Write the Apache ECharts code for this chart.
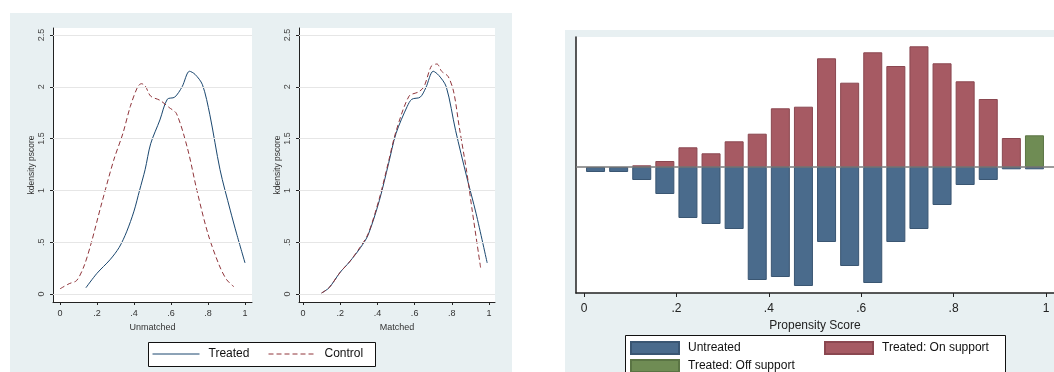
<!DOCTYPE html>
<html>
<head>
<meta charset="utf-8">
<style>
html,body{margin:0;padding:0;background:#fff;}
#chart{width:1054px;height:372px;}
</style>
<script src="https://cdn.jsdelivr.net/npm/echarts@6/dist/echarts.min.js"></script>
</head>
<body>
<div id="chart"></div>
<script>
// ---------- data ----------
const xTicks = [0, 0.2, 0.4, 0.6, 0.8, 1];
const xTickLabels = ['0', '.2', '.4', '.6', '.8', '1'];
const yTicks = [0, 0.5, 1, 1.5, 2, 2.5];
const yTickLabels = ['0', '.5', '1', '1.5', '2', '2.5'];

const treatedUnmatched = [[0.14,0.06],[0.2,0.2],[0.27,0.33],[0.32,0.45],[0.36,0.6],[0.40,0.8],[0.43,1.0],[0.46,1.2],[0.49,1.45],[0.54,1.68],[0.58,1.88],[0.62,1.9],[0.66,2.0],[0.70,2.15],[0.73,2.12],[0.77,2.02],[0.81,1.73],[0.865,1.2],[0.92,0.81],[0.955,0.58],[1.0,0.3]];
const controlUnmatched = [[0,0.05],[0.05,0.1],[0.09,0.13],[0.13,0.27],[0.17,0.5],[0.22,0.84],[0.29,1.29],[0.34,1.55],[0.38,1.81],[0.42,2.0],[0.44,2.03],[0.46,2.01],[0.49,1.91],[0.54,1.87],[0.59,1.8],[0.63,1.74],[0.69,1.4],[0.74,1.0],[0.80,0.58],[0.86,0.28],[0.9,0.14],[0.94,0.07]];
const treatedMatched = [[0.1,0.01],[0.14,0.06],[0.2,0.21],[0.25,0.31],[0.31,0.45],[0.35,0.57],[0.41,0.9],[0.46,1.26],[0.5,1.55],[0.56,1.81],[0.585,1.88],[0.63,1.9],[0.66,1.99],[0.7,2.15],[0.73,2.11],[0.77,2.0],[0.82,1.58],[0.88,1.13],[0.93,0.78],[0.99,0.3]];
const controlMatched = [[0.1,0.01],[0.14,0.06],[0.2,0.21],[0.25,0.31],[0.31,0.46],[0.35,0.58],[0.41,0.92],[0.46,1.28],[0.5,1.57],[0.57,1.91],[0.62,1.95],[0.65,2.0],[0.69,2.2],[0.72,2.22],[0.745,2.15],[0.78,2.1],[0.81,1.95],[0.84,1.61],[0.88,1.18],[0.91,0.8],[0.955,0.25]];

const binCenters = [0.025,0.075,0.125,0.175,0.225,0.275,0.325,0.375,0.425,0.475,0.525,0.575,0.625,0.675,0.725,0.775,0.825,0.875,0.925,0.975];
const untreated = [-5,-5,-13,-27,-51,-57,-62,-113,-110,-119,-75,-99,-116,-75,-62,-38,-18,-13,-2.3,-2.3];
const treatedOn = [null,null,1.7,6,19.7,13.7,25.7,33.3,58.7,60.3,108.7,84.3,114.7,101,120.7,103.7,85.7,68,29,null];
const treatedOff = [null,null,null,null,null,null,null,null,null,null,null,null,null,null,null,null,null,null,null,31.7];

// ---------- helpers ----------
const FONT = 'Liberation Sans, Arial, sans-serif';
const NAVY = '#1a476f';
const MAROON = '#90353b';
const pair = (xs, ys) => xs.map((x, i) => [x, ys[i]]);
const fmt = (ticks, labels) => v => { const i = ticks.findIndex(t => Math.abs(t - v) < 1e-9); return i >= 0 ? labels[i] : ''; };

function kdXAxis(gridIndex, min, max, name) {
  return {
    type: 'value', gridIndex, min, max, name, nameLocation: 'middle', nameGap: 13,
    nameTextStyle: { fontFamily: FONT, fontSize: 9, color: '#333' },
    axisLine: { show: true, onZero: false, lineStyle: { color: '#222', width: 1 } },
    axisTick: { show: true, length: 3, customValues: xTicks, lineStyle: { color: '#222' } },
    axisLabel: { customValues: xTicks, formatter: fmt(xTicks, xTickLabels), fontFamily: FONT, fontSize: 9, color: '#333', margin: 7 },
    splitLine: { show: false }
  };
}
function kdYAxis(gridIndex) {
  return {
    type: 'value', gridIndex, min: -0.0772, max: 2.5676, name: 'kdensity pscore', nameLocation: 'middle', nameGap: 17,
    nameTextStyle: { fontFamily: FONT, fontSize: 8.5, color: '#333' },
    axisLine: { show: true, onZero: false, lineStyle: { color: '#222', width: 1 } },
    axisTick: { show: true, length: 3, customValues: yTicks, lineStyle: { color: '#222' } },
    axisLabel: { customValues: yTicks, rotate: 90, formatter: fmt(yTicks, yTickLabels), fontFamily: FONT, fontSize: 9, color: '#444', margin: 7 },
    splitLine: { show: false }
  };
}
function gridLines() {
  return { silent: true, symbol: 'none', label: { show: false }, lineStyle: { color: '#e6e6e6', width: 1, type: 'solid' },
    data: yTicks.map(v => ({ yAxis: v })) };
}
function kdLine(name, data, xi, yi, dashed, withGrid) {
  const s = {
    name, type: 'line', xAxisIndex: xi, yAxisIndex: yi, data, smooth: 0.3, symbol: 'none', z: 3,
    lineStyle: { color: dashed ? MAROON : NAVY, width: 1, type: dashed ? [5, 3] : 'solid' },
    itemStyle: { color: dashed ? MAROON : NAVY }
  };
  if (withGrid) s.markLine = gridLines();
  return s;
}

const RED = '#a65a63', BLUE = '#4a6b8c', GREEN = '#6f8c54';
const lineLegend = (left, name) => ({
  left, top: 348, padding: 0, itemWidth: 47, itemHeight: 12, data: [name],
  itemStyle: { opacity: 0 },
  lineStyle: { width: 1 },
  textStyle: { fontFamily: FONT, fontSize: 12, color: '#111', padding: [0, 0, 0, 4] }
});
const barLegend = (left, top, name) => ({
  left, top, padding: 0, itemWidth: 48, itemHeight: 12, icon: 'rect', data: [name],
  textStyle: { fontFamily: FONT, fontSize: 12, color: '#111', padding: [0, 0, 0, 4] }
});

const option = {
  animation: false,
  backgroundColor: '#ffffff',
  graphic: [
    { type: 'rect', z: -10, shape: { x: 10, y: 13, width: 502, height: 359 }, style: { fill: '#e8f0f2' } },
    { type: 'rect', z: -10, shape: { x: 565, y: 30, width: 489, height: 342 }, style: { fill: '#e8f0f2' } },
    { type: 'rect', z: -5, shape: { x: 148.5, y: 342.5, width: 227, height: 24 }, style: { fill: '#fff', stroke: '#111', lineWidth: 1 } },
    { type: 'rect', z: -5, shape: { x: 625.5, y: 335.5, width: 380, height: 45 }, style: { fill: '#fff', stroke: '#111', lineWidth: 1 } }
  ],
  grid: [
    { left: 53, top: 28, width: 199, height: 274, show: true, backgroundColor: '#fff', borderWidth: 0 },
    { left: 299, top: 28, width: 196, height: 274, show: true, backgroundColor: '#fff', borderWidth: 0 },
    { left: 576, top: 37, width: 478, height: 256, show: true, backgroundColor: '#fff', borderWidth: 0 }
  ],
  xAxis: [
    kdXAxis(0, -0.0378, 1.0378, 'Unmatched'),
    kdXAxis(1, -0.0215, 1.032, 'Matched'),
    {
      type: 'value', gridIndex: 2, min: -0.0173, max: 1.0173, name: 'Propensity Score', nameLocation: 'middle', nameGap: 22,
      nameTextStyle: { fontFamily: FONT, fontSize: 12, color: '#222' },
      axisLine: { show: true, onZero: false, lineStyle: { color: '#222', width: 1.5 } },
      axisTick: { show: true, length: 4, customValues: xTicks, lineStyle: { color: '#222' } },
      axisLabel: { customValues: xTicks, formatter: fmt(xTicks, xTickLabels), fontFamily: FONT, fontSize: 12, color: '#222', margin: 10 },
      splitLine: { show: false }
    }
  ],
  yAxis: [
    kdYAxis(0),
    kdYAxis(1),
    {
      type: 'value', gridIndex: 2, min: -126, max: 130,
      axisLine: { show: true, onZero: false, lineStyle: { color: '#222', width: 1.5 } },
      axisTick: { show: false }, axisLabel: { show: false }, splitLine: { show: false }
    }
  ],
  legend: [
    lineLegend(152, 'Treated'),
    lineLegend(268, 'Control'),
    barLegend(630, 341, 'Untreated'),
    barLegend(824, 341, 'Treated: On support'),
    barLegend(630, 359, 'Treated: Off support')
  ],
  series: [
    kdLine('Treated', treatedUnmatched, 0, 0, false, true),
    kdLine('Control', controlUnmatched, 0, 0, true, false),
    kdLine('Treated', treatedMatched, 1, 1, false, true),
    kdLine('Control', controlMatched, 1, 1, true, false),
    {
      name: 'Untreated', type: 'bar', xAxisIndex: 2, yAxisIndex: 2, data: pair(binCenters, untreated),
      barWidth: 19, barGap: '-100%', itemStyle: { color: BLUE, borderColor: '#3a5672', borderWidth: 1 }
    },
    {
      name: 'Treated: On support', type: 'bar', xAxisIndex: 2, yAxisIndex: 2, data: pair(binCenters, treatedOn),
      barWidth: 19, barGap: '-100%', itemStyle: { color: RED, borderColor: '#8a4750', borderWidth: 1 }
    },
    {
      name: 'Treated: Off support', type: 'bar', xAxisIndex: 2, yAxisIndex: 2, data: pair(binCenters, treatedOff),
      barWidth: 19, barGap: '-100%', itemStyle: { color: GREEN, borderColor: '#5a7444', borderWidth: 1 },
      markLine: { silent: true, symbol: 'none', label: { show: false }, z: 10,
        lineStyle: { color: '#7a7a7a', width: 1.5, type: 'solid' }, data: [{ yAxis: 0 }] }
    }
  ]
};

const chart = echarts.init(document.getElementById('chart'), null, { renderer: 'canvas' });
chart.setOption(option);
</script>
</body>
</html>
